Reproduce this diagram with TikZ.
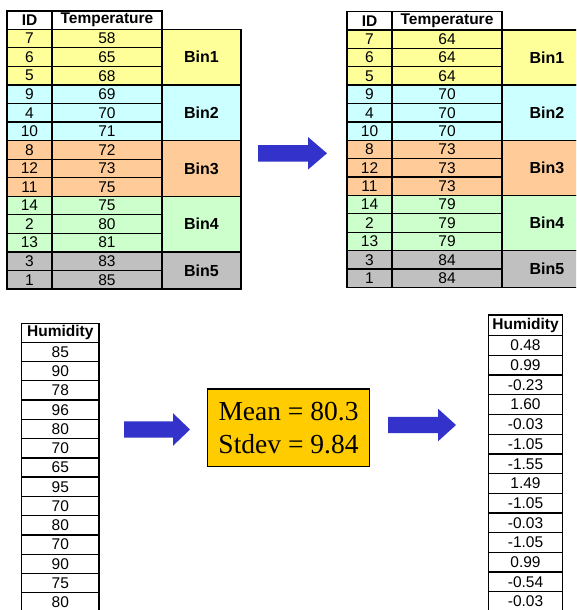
\documentclass[tikz,border=0pt]{standalone}
\usepackage{fontspec}
\setmainfont{Liberation Sans}
\newfontfamily\timesfont{Liberation Serif}
\usetikzlibrary{positioning}

\definecolor{binyellow}{HTML}{FFFF99}
\definecolor{bincyan}{HTML}{CCFFFF}
\definecolor{binorange}{HTML}{FFCC99}
\definecolor{bingreen}{HTML}{CCFFCC}
\definecolor{bingray}{HTML}{C0C0C0}
\definecolor{arrowblue}{HTML}{3333CC}
\definecolor{boxgold}{HTML}{FFCC00}

\begin{document}
\begin{tikzpicture}[x=1pt, y=-1pt,
		cell/.style={draw, line width=1.3pt, inner sep=0pt, outer sep=0pt, anchor=north west, font=\fontsize{15.5}{15.5}\selectfont},
		headcell/.style={cell, font=\fontsize{15.5}{15.5}\selectfont\bfseries},
		bincell/.style={cell, font=\fontsize{16}{16}\selectfont\bfseries},
		statbox/.style={draw, line width=1.3pt, fill=boxgold, align=center, inner sep=0pt, minimum width=161.6, minimum height=77.7, font=\timesfont\fontsize{27.5}{33}\selectfont}]

	\clip (0,0) rectangle (576,610);
	\fill[white] (0,0) rectangle (576,610);

	% temperature, before binning
	\begin{scope}[shift={(7,11)}]
		\def\h{18.55};
		\node[headcell, minimum width=45, minimum height=18.3] (tl-hid) at (0,0) {ID};
		\node[headcell, minimum width=110, minimum height=18.3] (tl-ht) at (45,0) {Temperature};
		\foreach \id/\t/\c [count=\i from 0] in {7/58/binyellow, 6/65/binyellow, 5/68/binyellow, 9/69/bincyan, 4/70/bincyan, 10/71/bincyan, 8/72/binorange, 12/73/binorange, 11/75/binorange, 14/75/bingreen, 2/80/bingreen, 13/81/bingreen, 3/83/bingray, 1/85/bingray}
		{
			\node[cell, fill=\c, minimum width=45, minimum height=\h] (tl-id\i) at (0,18.3+\i*\h) {\id};
			\node[cell, fill=\c, minimum width=110, minimum height=\h] (tl-t\i) at (45,18.3+\i*\h) {\t};
		}
		\foreach \b/\n/\r/\c [evaluate=\n as \bh using \n*\h] in {1/3/0/binyellow, 2/3/3/bincyan, 3/3/6/binorange, 4/3/9/bingreen, 5/2/12/bingray}
		{
			\node[bincell, fill=\c, minimum width=79, minimum height=\bh] (tl-bin\b) at (155,18.3+\r*\h) {Bin\b};
		}
	\end{scope}

	% temperature, smoothed by bin means
	\begin{scope}[shift={(347,11.7)}]
		\def\h{18.38};
		\node[headcell, minimum width=45, minimum height=18.3] (tr-hid) at (0,0) {ID};
		\node[headcell, minimum width=110, minimum height=18.3] (tr-ht) at (45,0) {Temperature};
		\foreach \id/\t/\c [count=\i from 0] in {7/64/binyellow, 6/64/binyellow, 5/64/binyellow, 9/70/bincyan, 4/70/bincyan, 10/70/bincyan, 8/73/binorange, 12/73/binorange, 11/73/binorange, 14/79/bingreen, 2/79/bingreen, 13/79/bingreen, 3/84/bingray, 1/84/bingray}
		{
			\node[cell, fill=\c, minimum width=45, minimum height=\h] (tr-id\i) at (0,18.3+\i*\h) {\id};
			\node[cell, fill=\c, minimum width=110, minimum height=\h] (tr-t\i) at (45,18.3+\i*\h) {\t};
		}
		\foreach \b/\n/\r/\c [evaluate=\n as \bh using \n*\h] in {1/3/0/binyellow, 2/3/3/bincyan, 3/3/6/binorange, 4/3/9/bingreen, 5/2/12/bingray}
		{
			\node[bincell, fill=\c, minimum width=90, minimum height=\bh] (tr-bin\b) at (155,18.3+\r*\h) {Bin\b};
		}
	\end{scope}

	% humidity, raw
	\begin{scope}[shift={(21.7,323.3)}]
		\def\h{19.26};
		\node[headcell, minimum width=77.3, minimum height=19] (bl-h) at (0,0) {Humidity};
		\foreach \v [count=\i from 0] in {85,90,78,96,80,70,65,95,70,80,70,90,75,80}
		{
			\node[cell, minimum width=77.3, minimum height=\h] (bl-v\i) at (0,19+\i*\h) {\v};
		}
	\end{scope}

	% humidity, z-scores
	\begin{scope}[shift={(488.3,315)}]
		\def\h{19.7};
		\node[headcell, minimum width=74.4, minimum height=20.7] (br-h) at (0,0) {Humidity};
		\foreach \v [count=\i from 0] in {0.48,0.99,-0.23,1.60,-0.03,-1.05,-1.55,1.49,-1.05,-0.03,-1.05,0.99,-0.54,-0.03}
		{
			\node[cell, minimum width=74.4, minimum height=\h] (br-v\i) at (0,20.7+\i*\h) {\v};
		}
	\end{scope}

	\node[statbox] (stats) at (288.5,427.85) {Mean = 80.3\\Stdev = 9.84};

	% block arrows
	\foreach \xa/\xb/\xc/\ym in {258/308/327/153.3, 124/173/190/429.5, 388/438/456/425}
	{
		\fill[arrowblue] (\xa,\ym-8.2) -- (\xb,\ym-8.2) -- (\xb,\ym-16.3) -- (\xc,\ym) -- (\xb,\ym+16.3) -- (\xb,\ym+8.2) -- (\xa,\ym+8.2) -- cycle;
	}
\end{tikzpicture}
\end{document}
